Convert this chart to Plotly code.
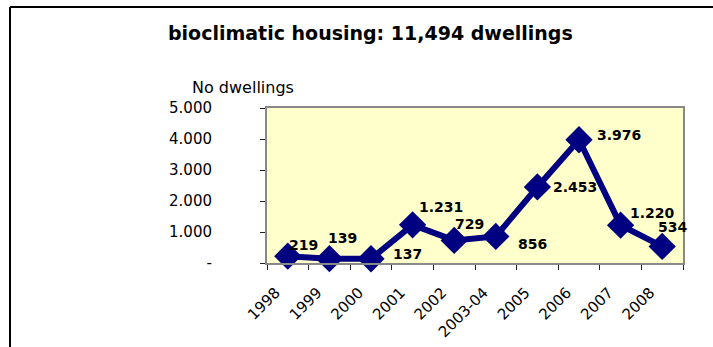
import plotly.graph_objects as go

categories = ["1998", "1999", "2000", "2001", "2002", "2003-04", "2005", "2006", "2007", "2008"]
values = [219, 139, 137, 1231, 729, 856, 2453, 3976, 1220, 534]
labels = ["219", "139", "137", "1.231", "729", "856", "2.453", "3.976", "1.220", "534"]
y_ticks = [0, 1000, 2000, 3000, 4000, 5000]
y_ticktext = ["-", "1.000", "2.000", "3.000", "4.000", "5.000"]

# pixel offsets of the value labels relative to each marker (style only)
label_dx = [-1, -3, 20, 4, -1, 20, 14, 16, 7, -6]
label_dy = [11, 21, 5, 18, 16, -8, 0, 5, 12, 19]

W, H = 713, 347
L, R, T, B = 267, 30, 108, 84
pw, ph = W - L - R, H - T - B

def px(x):
    return (x - L) / pw

def py(y):
    return (H - B - y) / ph

fig = go.Figure()
fig.add_trace(go.Scatter(
    x=categories, y=values, mode="lines+markers",
    line=dict(color="#000080", width=6),
    marker=dict(symbol="diamond", size=21, color="#000080"),
    cliponaxis=False, showlegend=False,
))

annotations = [
    dict(text="<b>bioclimatic housing: 11,494 dwellings</b>", x=px(370), y=py(33),
         xref="paper", yref="paper", showarrow=False, xanchor="center", yanchor="middle",
         font=dict(family="DejaVu Sans", size=19)),
    dict(text="No dwellings", x=px(190), y=py(88), xref="paper", yref="paper",
         showarrow=False, xanchor="left", yanchor="middle",
         font=dict(family="DejaVu Sans", size=16)),
]
for i, (v, t, dx, dy) in enumerate(zip(values, labels, label_dx, label_dy)):
    annotations.append(dict(
        text="<b>" + t + "</b>", x=i, y=v, xref="x", yref="y", showarrow=False,
        xanchor="left", yanchor="middle", xshift=dx, yshift=dy,
        font=dict(family="DejaVu Sans", size=14, color="black"),
    ))

fig.update_layout(
    width=W, height=H,
    margin=dict(l=L, r=R, t=T, b=B),
    paper_bgcolor="white", plot_bgcolor="#FFFFCC",
    font=dict(family="DejaVu Sans", color="black"),
    xaxis=dict(
        type="category", tickson="boundaries", ticks="outside", ticklen=5,
        tickcolor="#222", tickangle=-45, showgrid=False, zeroline=False,
        showline=True, linecolor="#888", linewidth=2, mirror=True,
        tickfont=dict(family="DejaVu Sans", size=15), range=[-0.5, 9.5],
        ticklabelshift=-12, ticklabelstandoff=13, automargin=False,
    ),
    yaxis=dict(
        range=[0, 5000], tickvals=y_ticks, ticktext=y_ticktext,
        ticks="outside", ticklen=5, tickcolor="#222", showgrid=False,
        zeroline=False, showline=True, linecolor="#888", linewidth=2, mirror=True,
        tickfont=dict(family="DejaVu Sans", size=15), ticklabelstandoff=45,
        automargin=False,
    ),
    annotations=annotations,
    shapes=[
        dict(type="line", xref="paper", yref="paper", x0=px(10), x1=px(720),
             y0=py(7), y1=py(7), line=dict(color="black", width=2)),
        dict(type="line", xref="paper", yref="paper", x0=px(10), x1=px(10),
             y0=py(7), y1=py(360), line=dict(color="black", width=2)),
    ],
)

fig.write_html("out.html")
